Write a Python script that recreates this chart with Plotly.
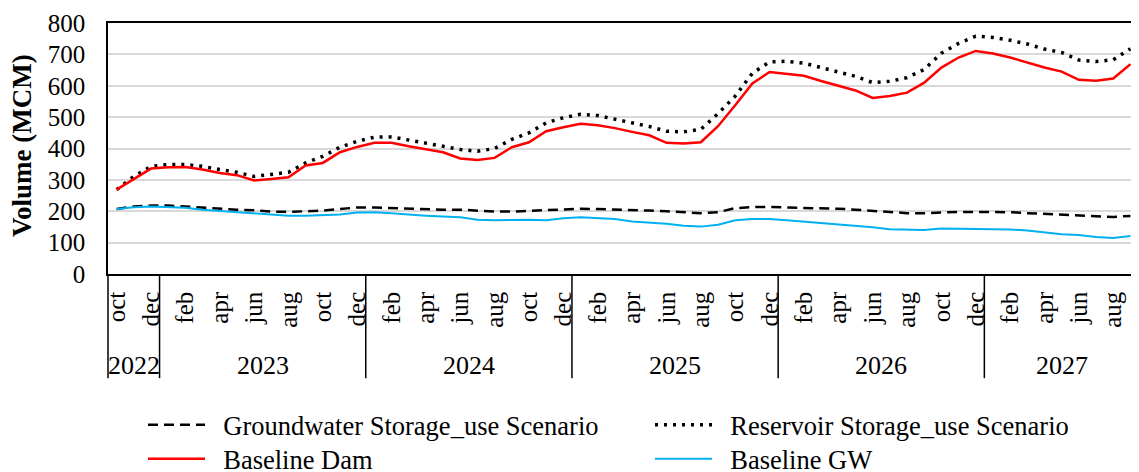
import plotly.graph_objects as go

# monthly series, Oct 2022 - Sep 2027
months = (["oct", "nov", "dec"]
          + ["jan", "feb", "mar", "apr", "may", "jun", "jul", "aug", "sep", "oct", "nov", "dec"] * 4
          + ["jan", "feb", "mar", "apr", "may", "jun", "jul", "aug", "sep"])
years = ["2022", "2023", "2024", "2025", "2026", "2027"]

gw_scenario = [207, 215, 218, 218, 215, 211, 207, 205, 203, 199, 198, 199, 202, 207, 212,
               212, 210, 207, 205, 205, 205, 201, 199, 199, 201, 202, 205, 208, 207, 206,
               204, 202, 200, 196, 194, 197, 210, 213, 214, 212, 211, 210, 208, 205, 202,
               198, 194, 194, 197, 198, 198, 198, 197, 194, 191, 188, 186, 184, 182, 185]
res_scenario = [269, 311, 343, 349, 349, 343, 333, 324, 311, 317, 324, 354, 375, 404, 423,
                436, 437, 427, 416, 407, 397, 391, 400, 429, 450, 482, 498, 509, 505, 493,
                482, 470, 455, 453, 461, 511, 567, 640, 676, 678, 672, 658, 644, 630, 610,
                614, 626, 652, 704, 735, 758, 754, 745, 733, 717, 706, 682, 677, 683, 718]
baseline_dam = [269, 303, 336, 340, 341, 333, 322, 315, 298, 303, 308, 346, 354, 388, 405,
                418, 418, 407, 397, 388, 368, 363, 370, 404, 420, 455, 468, 479, 474, 465,
                453, 442, 418, 416, 420, 471, 538, 607, 644, 639, 632, 615, 601, 585, 561,
                567, 578, 610, 658, 690, 711, 703, 690, 674, 658, 645, 619, 616, 623, 669]
baseline_gw = [207, 213, 215, 214, 211, 205, 201, 198, 194, 189, 186, 186, 188, 190, 196,
               197, 194, 189, 186, 183, 181, 173, 171, 172, 173, 171, 178, 181, 177, 175,
               167, 164, 160, 154, 151, 157, 171, 175, 175, 171, 167, 163, 157, 153, 149,
               143, 141, 140, 145, 144, 144, 144, 142, 139, 133, 127, 124, 118, 115, 121]

x = list(range(len(months)))
FONT = "Liberation Serif, Times New Roman, serif"
PAD = "\u00a0\u00a0"
W, H = 1131, 464  # page body adds an 8px offset

fig = go.Figure()
fig.add_trace(go.Scatter(x=x, y=gw_scenario, mode="lines", name=PAD + "Groundwater Storage_use Scenario",
                         line=dict(color="black", width=2.5, dash="10px,6px"), legend="legend"))
fig.add_trace(go.Scatter(x=x, y=res_scenario, mode="lines", name=PAD + "Reservoir Storage_use Scenario",
                         line=dict(color="black", width=3.5, dash="3px,6px"), legend="legend2"))
fig.add_trace(go.Scatter(x=x, y=baseline_dam, mode="lines", name=PAD + "Baseline Dam",
                         line=dict(color="#ff0000", width=2.5), legend="legend3"))
fig.add_trace(go.Scatter(x=x, y=baseline_gw, mode="lines", name=PAD + "Baseline GW",
                         line=dict(color="#00b0f0", width=2), legend="legend4"))

# year groups: separators before each january, labels centred on each group
jan_idx = [i for i, m in enumerate(months) if m == "jan"]
bounds = [0] + jan_idx + [len(months)]
shapes = [dict(type="line", xref="paper", yref="paper", x0=0, x1=0, y0=0, y1=-0.415,
               line=dict(color="black", width=1.5))]
for j in jan_idx:
    shapes.append(dict(type="line", xref="x", yref="paper", x0=j - 0.5, x1=j - 0.5,
                       y0=0, y1=-0.415, line=dict(color="black", width=1.5)))
annotations = []
for k, yr in enumerate(years):
    annotations.append(dict(x=(bounds[k] + bounds[k + 1] - 1) / 2, y=-0.363, xref="x", yref="paper",
                            yanchor="middle", xanchor="center", text=yr, showarrow=False,
                            font=dict(size=26, color="black", family=FONT)))
annotations.append(dict(x=-86 / 1031, y=0.51, xref="paper", yref="paper", text="<b>Volume (MCM)</b>",
                        textangle=-90, showarrow=False, xanchor="center", yanchor="middle",
                        font=dict(size=27, color="black", family=FONT)))


def leg(px, py):
    return dict(xref="container", yref="container", x=px / W, y=1 - py / H,
                xanchor="left", yanchor="middle", font=dict(size=26.5), itemwidth=57,
                bgcolor="rgba(0,0,0,0)")


fig.update_layout(
    width=W, height=H, showlegend=True,
    margin=dict(l=100, r=0, t=15, b=198, autoexpand=False),
    plot_bgcolor="white", paper_bgcolor="white",
    font=dict(family=FONT, size=25, color="black"),
    shapes=shapes, annotations=annotations,
    legend=leg(135, 417), legend2=leg(642, 417),
    legend3=leg(135, 451), legend4=leg(642, 451),
)
fig.update_xaxes(range=[-0.5, len(months) - 0.5], tickvals=x[::2], ticktext=months[::2],
                 tickangle=-90, showgrid=False, zeroline=False, showline=True, mirror=True,
                 linecolor="black", linewidth=1.5, ticks="", ticklabelstandoff=6,
                 tickfont=dict(size=25), automargin=False)
fig.update_yaxes(range=[0, 800], dtick=100, showgrid=True, gridcolor="#d9d9d9", gridwidth=1.5,
                 zeroline=False, showline=True, linecolor="black", linewidth=1.5,
                 ticks="", ticklabelstandoff=16, tickfont=dict(size=25), automargin=False)

fig.write_html("out.html")
